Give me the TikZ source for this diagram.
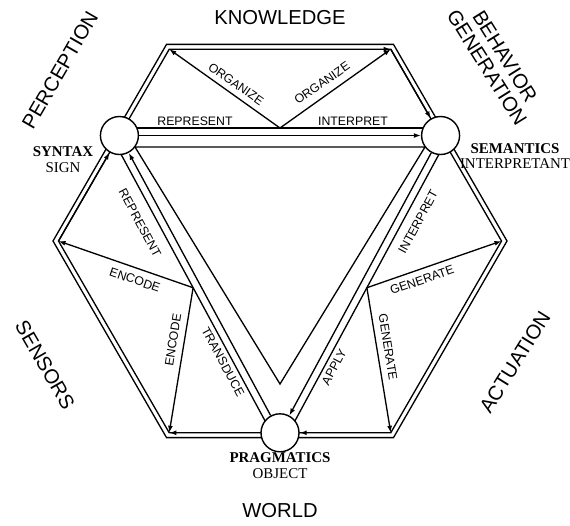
\documentclass[tikz,border=0pt]{standalone}
\usepackage{fontspec}
\setmainfont{Liberation Serif}
\setsansfont{Liberation Sans}
\usetikzlibrary{arrows.meta, calc}

\tikzset{
  sign/.style={circle, draw, fill=white, line width=0.8pt, minimum size=0.76cm, inner sep=0pt},
  wire/.style={line width=0.75pt},
  flow/.style={-{Latex[length=4pt, width=2.8pt]}, line width=0.75pt},
  lbl/.style={font=\sffamily\fontsize{7}{8}\selectfont, inner sep=0pt},
  area/.style={font=\sffamily\fontsize{11.5}{12}\selectfont, align=center, inner sep=0pt},
  role/.style={font=\fontsize{8.5}{9}\selectfont, align=center, inner sep=0pt}
}

\begin{document}
\begin{tikzpicture}[x=0.02cm, y=-0.02cm]
  \useasboundingbox (0,0) rectangle (570,526);

  % hexagon, outer and inner line
  \foreach \n/\px/\py in {r/507/241, br/393.5/437.6, bl/166.5/437.6, l/53/241, tl/166.5/44.4, tr/393.5/44.4}
    \coordinate (o\n) at (\px,\py);
  \foreach \n/\px/\py in {r/501.5/241, br/390.75/432.8, bl/169.25/432.8, l/58.5/241, tl/169.25/49.2, tr/390.75/49.2}
    \coordinate (i\n) at (\px,\py);

  \coordinate (csyn) at ($(il)!0.55!(itl)$);
  \coordinate (csem) at ($(ir)!0.55!(itr)$);
  \coordinate (cprag) at ($(ibl)!0.5!(ibr)$);

  \draw[wire] (or) -- (obr) -- (obl) -- (ol) -- (otl) -- (otr) -- cycle;
  \draw[wire] (ir) -- (ibr) -- (ibl) -- (il) -- (itl) -- (itr) -- cycle;

  % outer side of the band
  \coordinate (ta) at ($(csyn)!0.15cm!90:(csem)$);
  \coordinate (tb) at ($(csem)!0.15cm!-90:(csyn)$);
  \coordinate (la) at ($(csyn)!0.15cm!-90:(cprag)$);
  \coordinate (lb) at ($(cprag)!0.15cm!90:(csyn)$);
  \coordinate (ra) at ($(csem)!0.15cm!90:(cprag)$);
  \coordinate (rb) at ($(cprag)!0.15cm!-90:(csem)$);
  \draw[wire] (ta) -- (tb);
  \draw[wire] (la) -- (lb);
  \draw[wire] (ra) -- (rb);

  % inner side of the band
  \draw[wire] (135,147) -- (425,147) -- (280,384) -- cycle;

  \coordinate (ko) at ($(ta)!0.5!(tb)$);
  \coordinate (se) at ($(la)!0.5!(lb)$);
  \coordinate (ag) at ($(ra)!0.5!(rb)$);

  % signs
  \node[sign] (syn) at (csyn) {};
  \node[sign] (sem) at (csem) {};
  \node[sign] (prag) at (cprag) {};

  % flows
  \draw[flow] (syn) -- (sem);
  \draw[flow] (sem) -- (prag);
  \draw[flow] (prag) -- (syn);

  \draw[flow] (itl) -- (itr);
  \draw[flow] (itr) -- (sem);
  \draw[flow] (ibr) -- (prag);
  \draw[flow] (prag) -- (ibl);
  \draw[flow] (il) -- (syn);

  \draw[flow] (ko) -- (itl);
  \draw[flow] (ko) -- (itr);
  \draw[flow] (se) -- (il);
  \draw[flow] (se) -- (ibl);
  \draw[flow] (ag) -- (ir);
  \draw[flow] (ag) -- (ibr);

  % labels on the flows
  \node[lbl] at (195,121) {REPRESENT};
  \node[lbl] at (353,121) {INTERPRET};
  \node[lbl, rotate=-35] at (236,84) {ORGANIZE};
  \node[lbl, rotate=35] at (322,83) {ORGANIZE};
  \node[lbl, rotate=-61.6] at (140,223) {REPRESENT};
  \node[lbl, rotate=-61.6] at (223,362) {TRANSDUCE};
  \node[lbl, rotate=61.6] at (418,222) {INTERPRET};
  \node[lbl, rotate=61.6] at (334,367) {APPLY};
  \node[lbl, rotate=-19] at (135,280) {ENCODE};
  \node[lbl, rotate=81] at (173,340) {ENCODE};
  \node[lbl, rotate=19] at (422,280) {GENERATE};
  \node[lbl, rotate=-81] at (388,347) {GENERATE};

  % sign names
  \node[role] at (63,160) {\textbf{SYNTAX}\\SIGN};
  \node[role] at (515,156) {\textbf{SEMANTICS}\\INTERPRETANT};
  \node[role] at (280,466) {\textbf{PRAGMATICS}\\OBJECT};

  % areas
  \node[area] at (280,18) {KNOWLEDGE};
  \node[area, rotate=60] at (60,70) {PERCEPTION};
  \node[area, rotate=-58] at (496,62) {BEHAVIOR\\GENERATION};
  \node[area, rotate=-60] at (45,365) {SENSORS};
  \node[area, rotate=58] at (515,362) {ACTUATION};
  \node[area] at (280,511) {WORLD};
\end{tikzpicture}
\end{document}
